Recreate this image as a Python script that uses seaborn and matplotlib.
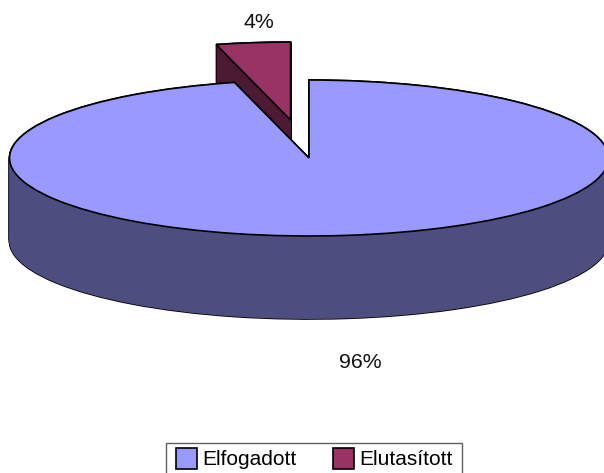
import numpy as np
import matplotlib
matplotlib.use("Agg")
import matplotlib.pyplot as plt
from matplotlib.patches import Rectangle
import seaborn as sns

categories = ["Elfogadott", "Elutasított"]
values = [96, 4]

TOP = ["#9999FF", "#993366"]
SIDE = ["#4D4D80", "#4D1A33"]
EXPLODE = [0, 0.49]
W, H = 604, 473
CX, CY, RX, RY, DEPTH = 309, 158, 299.5, 78, 83

sns.set_theme(style="white")
plt.rcParams["font.family"] = ["Liberation Sans", "DejaVu Sans"]

fig = plt.figure(figsize=(W / 100, H / 100), dpi=100, facecolor="white")
ax = fig.add_axes([0, 0, 1, 1])


def layer(offset, colors, z, **wedgeprops):
    wedges, _ = ax.pie(values, colors=colors, startangle=90, counterclock=False,
                       explode=EXPLODE, center=(0, -offset), wedgeprops=wedgeprops)
    wedges[0].set_zorder(z[0])
    wedges[1].set_zorder(z[1])
    return wedges


depth_units = DEPTH / RY
steps = np.linspace(depth_units, 0, DEPTH + 1)
for d in steps:
    layer(d, SIDE, (3, 1), edgecolor="black", linewidth=1.2)
for d in steps:
    layer(d, SIDE, (3.5, 1.5), edgecolor="none", linewidth=0)
faces = layer(0, TOP, (5, 2), edgecolor="black", linewidth=1.2)

ax.set_aspect("auto")
ax.set_xlim((0 - CX) / RX, (W - CX) / RX)
ax.set_ylim((CY - H) / RY, CY / RY)
ax.axis("off")
sns.despine(ax=ax, left=True, bottom=True)

FS = 15.0
label_pos = [(360, 362), (259, 22)]
for v, (px, py) in zip(values, label_pos):
    ax.text(px / W, 1 - py / H, f"{v}%", transform=ax.transAxes, ha="center",
            va="center", fontsize=15.3, color="#111111", zorder=10)

# Legend frame runs past the bottom of the picture, as in the reference.
ax.add_patch(Rectangle((166 / W, 1 - 483 / H), 296 / W, 40 / H, transform=ax.transAxes,
                       facecolor="white", edgecolor="#606060", linewidth=1.0,
                       clip_on=False, zorder=15))

fs_px = FS * 100 / 72
leg = ax.legend(faces, categories, ncol=2, fontsize=FS, loc="upper left",
                bbox_to_anchor=(176 / W, 1 - 448 / H), borderaxespad=0,
                frameon=False,
                handlelength=21 / fs_px, handleheight=1.14,
                handletextpad=5 / fs_px, columnspacing=37 / fs_px,
                borderpad=0, labelcolor="black")
leg.set_zorder(20)

fig.savefig("out.png", dpi=100, facecolor="white")
